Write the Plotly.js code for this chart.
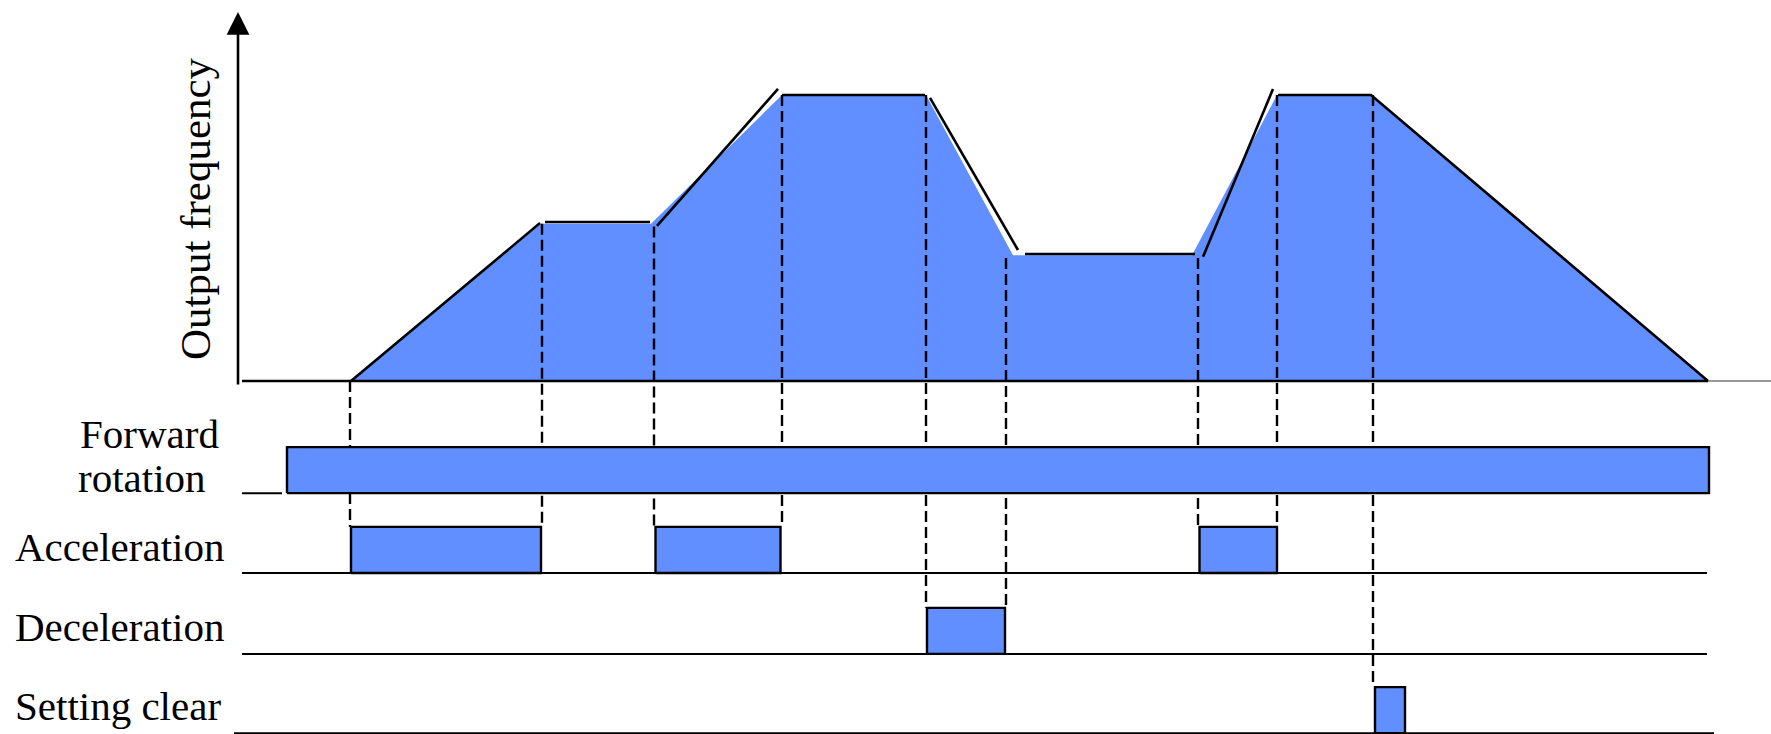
<!DOCTYPE html>
<html><head><meta charset="utf-8">
<script src="https://cdn.plot.ly/plotly-3.0.1.min.js"></script>
<style>html,body{margin:0;padding:0;background:#fff;} #chart{width:1771px;height:734px;}</style>
</head><body><div id="chart"></div>
<script>
// ---- Data (time in arbitrary units, frequency in % of maximum) ----
const freqTime  = [11.3, 30.3, 41.3, 54.4, 68.8, 77.5, 95.4, 103.9, 113.3, 147.0];
const freqValue = [0, 55, 55, 100, 100, 44, 44, 100, 100, 0];

// black outline strokes of the frequency curve (null = gap between strokes)
const outlineTime  = [11.3, 30.2, null, 30.7, 41.2, null, 41.9, 54.0, null, 54.4, 68.7, null, 69.2, 78.0, null, 78.7, 95.7, null, 96.5, 103.5, null, 104.0, 113.3, 147.0];
const outlineValue = [0, 55.2, null, 55.6, 55.6, null, 54.2, 102.1, null, 100, 100, null, 99, 45.8, null, 44.4, 44.4, null, 43.4, 102.1, null, 100, 100, 0];

const signalNames   = ['Forward', 'rotation', 'Acceleration', 'Deceleration', 'Setting clear'];
const forwardPulses = [[4.9, 147.1]];
const accelPulses   = [[11.3, 30.3], [41.75, 54.25], [96.15, 103.9]];
const decelPulses   = [[68.9, 76.7]];
const clearPulses   = [[113.7, 116.7]];
const signalLineStart = [0.4, 0.4, 0.4, -0.4];
const signalLineEnd   = [4.4, 146.9, 146.9, 147.6];

const guideTime = [11.2, 30.4, 41.6, 54.4, 68.8, 76.8, 96.0, 103.9, 113.5];
const guideTop  = [0, 55, 54, 100, 100, 43, 43, 100, 100];
const guideRow  = [1, 1, 1, 1, 2, 2, 1, 1, 3];

// ---- Layout constants ----
const BLUE = '#618FFF';
const ROW_BASE = [-39.2, -67.1, -95.4, -123.1];
const PULSE_H = 16.1;
const FONT = 'Liberation Serif, Times New Roman, serif';

const traces = [];
// filled frequency area
traces.push({x: freqTime, y: freqValue, type: 'scatter', mode: 'lines', fill: 'tozeroy',
  fillcolor: BLUE, line: {width: 0, color: BLUE}, hoverinfo: 'skip'});
// baseline
traces.push({x: [0.4, freqTime[freqTime.length-1]], y: [0, 0], mode: 'lines', line: {color: '#000', width: 2.7}, hoverinfo: 'skip'});
traces.push({x: [freqTime[freqTime.length-1], 153.3], y: [0, 0], mode: 'lines', line: {color: '#777', width: 1.5}, hoverinfo: 'skip'});
// outline
traces.push({x: outlineTime, y: outlineValue, mode: 'lines', connectgaps: false,
  line: {color: '#000', width: 2.6}, hoverinfo: 'skip'});

// row baselines
signalLineStart.forEach((s, i) => {
  traces.push({x: [s, signalLineEnd[i]], y: [ROW_BASE[i], ROW_BASE[i]], mode: 'lines',
    line: {color: '#000', width: 2}, hoverinfo: 'skip'});
});

// dashed guides
guideTime.forEach((t, i) => {
  traces.push({x: [t, t], y: [guideTop[i], ROW_BASE[guideRow[i]] + PULSE_H], mode: 'lines',
    line: {color: '#000', width: 2.4, dash: '11px,5px'}, hoverinfo: 'skip'});
});

// pulses
[forwardPulses, accelPulses, decelPulses, clearPulses].forEach((pulses, r) => {
  const xs = [], ys = [];
  const b = ROW_BASE[r], h = b + PULSE_H;
  pulses.forEach(([s, e], k) => {
    if (k) { xs.push(null); ys.push(null); }
    xs.push(s, s, e, e, s); ys.push(b, h, h, b, b);
  });
  traces.push({x: xs, y: ys, mode: 'lines', fill: 'toself', fillcolor: BLUE,
    line: {color: '#000', width: 2.4}, hoverinfo: 'skip'});
});

const py = px => 1 - px / 734;
const px = v => v / 1771;
const labelFont = {family: FONT, size: 41, color: '#000'};
const labelPos = [[78, 433.5], [76, 478], [13, 546.5], [13, 627], [13, 705.5]];
const annotations = signalNames.map((name, i) => ({
  text: name, xref: 'paper', yref: 'paper', x: px(labelPos[i][0]), y: py(labelPos[i][1]),
  xanchor: 'left', yanchor: 'middle', showarrow: false, font: labelFont
}));
annotations.push({
  text: 'Output frequency', xref: 'paper', yref: 'paper', x: px(195), y: py(209),
  xanchor: 'center', yanchor: 'middle', textangle: -90, showarrow: false,
  font: {family: FONT, size: 43, color: '#000'}
});
// vertical axis with arrow
annotations.push({
  x: 0, y: 129.0, xref: 'x', yref: 'y', ax: 0, ay: -1.75, axref: 'x', ayref: 'y',
  text: '', showarrow: true, arrowhead: 2, arrowsize: 1.75, arrowwidth: 2.6, arrowcolor: '#000'
});

const layout = {
  width: 1771, height: 734,
  margin: {l: 0, r: 0, t: 0, b: 0, pad: 0},
  paper_bgcolor: '#fff', plot_bgcolor: '#fff',
  showlegend: false,
  xaxis: {range: [-23.8, 153.3], visible: false, fixedrange: true},
  yaxis: {range: [-123.4, 133.2], visible: false, fixedrange: true},
  annotations: annotations
};

Plotly.newPlot('chart', traces, layout, {staticPlot: true, displayModeBar: false});
</script>
</body></html>
